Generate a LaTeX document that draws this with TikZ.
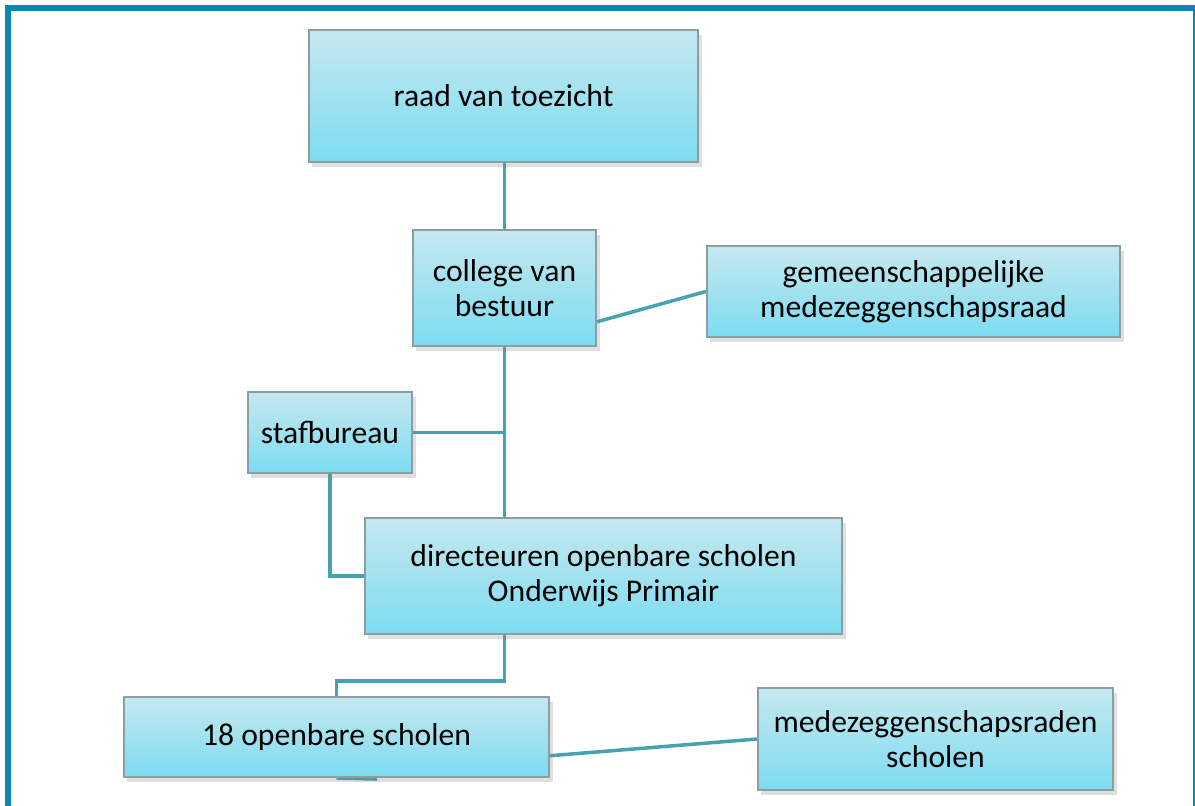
\documentclass[tikz,border=0pt]{standalone}
\usepackage{fontspec}
\setmainfont{Carlito}
\usetikzlibrary{shadows,backgrounds}

\definecolor{framecol}{HTML}{0B88B0}
\definecolor{linecol}{HTML}{45A3AF}
\definecolor{boxtop}{HTML}{C6E8EF}
\definecolor{boxbot}{HTML}{7CDCF0}
\definecolor{boxedge}{HTML}{8C9EA3}

\begin{document}
\begin{tikzpicture}[x=0.01cm,y=-0.01cm,
  orgbox/.style={rectangle,draw=boxedge,line width=0.6pt,top color=boxtop,bottom color=boxbot,
    align=center,inner sep=2pt,font=\fontsize{9}{10}\selectfont,
    drop shadow={shadow xshift=1pt,shadow yshift=-1.5pt,opacity=0.25}},
  link/.style={draw=linecol,line width=1pt}]
  \useasboundingbox (0,0) rectangle (1195,805);
  \draw[framecol,line width=1.7pt] (8,8) rectangle (1196,840);
  \node[orgbox,minimum width=3.89cm,minimum height=1.32cm] (raad) at (503.5,96) {raad van toezicht};
  \node[orgbox,minimum width=1.83cm,minimum height=1.16cm] (college) at (504.5,288) {college van\\bestuur};
  \node[orgbox,minimum width=4.13cm,minimum height=0.91cm] (gmr) at (913.5,291.5) {gemeenschappelijke\\medezeggenschapsraad};
  \node[orgbox,minimum width=1.64cm,minimum height=0.81cm] (staf) at (330,432.5) {stafbureau};
  \node[orgbox,minimum width=4.77cm,minimum height=1.16cm] (dir) at (603.5,576) {directeuren openbare scholen\\Onderwijs Primair};
  \node[orgbox,minimum width=4.25cm,minimum height=0.80cm] (scholen18) at (336.5,737) {18 openbare scholen};
  \node[orgbox,minimum width=3.55cm,minimum height=1.02cm] (mzr) at (935.5,739) {medezeggenschapsraden\\scholen};
  \coordinate (stub) at (377,779);
  \begin{scope}[on background layer]
    \draw[link] (college.north |- raad.south) -- (college.north);
    \draw[link] (college.-20) -- (gmr.west);
    \draw[link] (college.south) -- (college.south |- dir.north);
    \draw[link] (staf.east) -- (staf.east -| college.south);
    \draw[link] (staf.south) |- (dir.west);
    \draw[link] (dir.south -| college.south) -- ++(0,46) -| (scholen18.north);
    \draw[link] (scholen18.-5) -- (mzr.west);
    \draw[link] (scholen18.south) -- (stub);
  \end{scope}
\end{tikzpicture}
\end{document}
